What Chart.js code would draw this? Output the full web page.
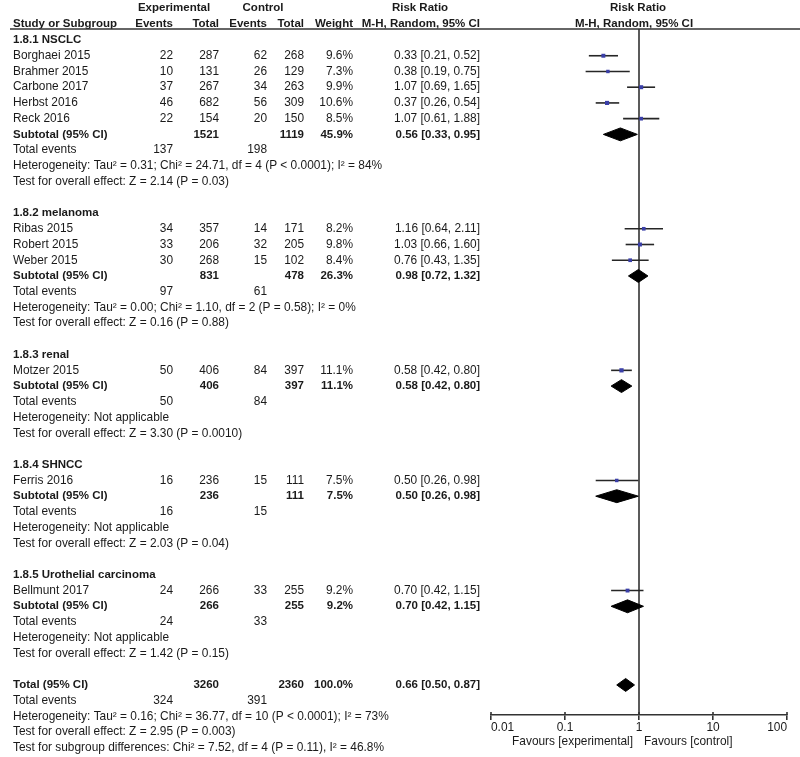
<!DOCTYPE html>
<html>
<head>
<meta charset="utf-8">
<script src="https://cdn.jsdelivr.net/npm/chart.js@4.4.0/dist/chart.umd.min.js"></script>
<style>
html, body { margin: 0; padding: 0; background: #fff; }
canvas { display: block; }
</style>
</head>
<body>
<canvas id="forest" width="800" height="757"></canvas>
<script>
////////////////////////////////////////////////////////////////////////////////
// data
////////////////////////////////////////////////////////////////////////////////
const GROUP_NAMES = ["1.8.1 NSCLC", "1.8.2 melanoma", "1.8.3 renal", "1.8.4 SHNCC", "1.8.5 Urothelial carcinoma"];

const STUDY_NAMES = ["Borghaei 2015", "Brahmer 2015", "Carbone 2017", "Herbst 2016", "Reck 2016",
                     "Ribas 2015", "Robert 2015", "Weber 2015", "Motzer 2015", "Ferris 2016", "Bellmunt 2017"];
const STUDY_GROUP = [0, 0, 0, 0, 0, 1, 1, 1, 2, 3, 4];
const EXP_EVENTS  = [22, 10, 37, 46, 22, 34, 33, 30, 50, 16, 24];
const EXP_TOTAL   = [287, 131, 267, 682, 154, 357, 206, 268, 406, 236, 266];
const CTL_EVENTS  = [62, 26, 34, 56, 20, 14, 32, 15, 84, 15, 33];
const CTL_TOTAL   = [268, 129, 263, 309, 150, 171, 205, 102, 397, 111, 255];
const WEIGHTS     = [9.6, 7.3, 9.9, 10.6, 8.5, 8.2, 9.8, 8.4, 11.1, 7.5, 9.2];
const RR          = [0.33, 0.38, 1.07, 0.37, 1.07, 1.16, 1.03, 0.76, 0.58, 0.50, 0.70];
const RR_LOW      = [0.21, 0.19, 0.69, 0.26, 0.61, 0.64, 0.66, 0.43, 0.42, 0.26, 0.42];
const RR_HIGH     = [0.52, 0.75, 1.65, 0.54, 1.88, 2.11, 1.60, 1.35, 0.80, 0.98, 1.15];

// subgroup summaries
const SUB_EXP_EVENTS = [137, 97, 50, 16, 24];
const SUB_CTL_EVENTS = [198, 61, 84, 15, 33];
const SUB_EXP_TOTAL  = [1521, 831, 406, 236, 266];
const SUB_CTL_TOTAL  = [1119, 478, 397, 111, 255];
const SUB_WEIGHT     = [45.9, 26.3, 11.1, 7.5, 9.2];
const SUB_RR         = [0.56, 0.98, 0.58, 0.50, 0.70];
const SUB_LOW        = [0.33, 0.72, 0.42, 0.26, 0.42];
const SUB_HIGH       = [0.95, 1.32, 0.80, 0.98, 1.15];
const SUB_HET = [
    "Heterogeneity: Tau\u00b2 = 0.31; Chi\u00b2 = 24.71, df = 4 (P < 0.0001); I\u00b2 = 84%",
    "Heterogeneity: Tau\u00b2 = 0.00; Chi\u00b2 = 1.10, df = 2 (P = 0.58); I\u00b2 = 0%",
    "Heterogeneity: Not applicable",
    "Heterogeneity: Not applicable",
    "Heterogeneity: Not applicable",
];
const SUB_TEST = [
    "Test for overall effect: Z = 2.14 (P = 0.03)",
    "Test for overall effect: Z = 0.16 (P = 0.88)",
    "Test for overall effect: Z = 3.30 (P = 0.0010)",
    "Test for overall effect: Z = 2.03 (P = 0.04)",
    "Test for overall effect: Z = 1.42 (P = 0.15)",
];

// overall
const TOTAL_EXP_EVENTS = 324;
const TOTAL_CTL_EVENTS = 391;
const TOTAL_EXP = 3260;
const TOTAL_CTL = 2360;
const TOTAL_WEIGHT = 100.0;
const TOTAL_RR = 0.66;
const TOTAL_LOW = 0.50;
const TOTAL_HIGH = 0.87;
const TOTAL_NOTES = [
    "Heterogeneity: Tau\u00b2 = 0.16; Chi\u00b2 = 36.77, df = 10 (P < 0.0001); I\u00b2 = 73%",
    "Test for overall effect: Z = 2.95 (P = 0.003)",
    "Test for subgroup differences: Chi\u00b2 = 7.52, df = 4 (P = 0.11), I\u00b2 = 46.8%",
];

const X_TICKS = [0.01, 0.1, 1, 10, 100];
const FAVOURS = ["Favours [experimental]", "Favours [control]"];


////////////////////////////////////////////////////////////////////////////////
// rows
////////////////////////////////////////////////////////////////////////////////
const rows = [];
const studyRow = [];
const subRow = [];
let r = 0;
GROUP_NAMES.forEach((g, gi)=>{
    rows.push({ row: r++, kind: "group", i: gi });
    STUDY_GROUP.forEach((sg, si)=>{
        if(sg === gi){
            studyRow[si] = r;
            rows.push({ row: r++, kind: "study", i: si });
        }
    });
    subRow[gi] = r;
    rows.push({ row: r++, kind: "subtotal", i: gi });
    rows.push({ row: r++, kind: "events", i: gi });
    rows.push({ row: r++, kind: "het", i: gi });
    rows.push({ row: r++, kind: "test", i: gi });
    r++; // blank line
});
const totalRow = r;
rows.push({ row: r++, kind: "total" });
rows.push({ row: r++, kind: "totalEvents" });
TOTAL_NOTES.forEach((t, ti)=>{ rows.push({ row: r++, kind: "note", i: ti }); });

const Y_MIN = -0.7;
const Y_MAX = 42.91;
const DIAMOND_H = 0.41;


////////////////////////////////////////////////////////////////////////////////
// datasets
////////////////////////////////////////////////////////////////////////////////
const FONT = "'Liberation Sans', Arial, sans-serif";
const FONT_SIZE = 11.9;
const BOLD_SIZE = 11.5;
const TEXT_COLOR = "#1a1a1a";

const diamond = (est, lo, hi, row)=>[
    { x: lo, y: row }, { x: est, y: row - DIAMOND_H }, { x: hi, y: row },
    { x: est, y: row + DIAMOND_H }, { x: lo, y: row },
];

const datasets = [];

datasets.push({
    label: "studies",
    data: RR.map((v, i)=>({ x: v, y: studyRow[i] })),
    pointStyle: "rect",
    pointRadius: WEIGHTS.map(w => 0.9 * Math.sqrt(w)),
    backgroundColor: "#3a3fa8",
    borderWidth: 0,
    order: 0,
});

RR.forEach((v, i)=>{
    datasets.push({
        label: "ci " + STUDY_NAMES[i],
        data: [{ x: RR_LOW[i], y: studyRow[i] }, { x: RR_HIGH[i], y: studyRow[i] }],
        showLine: true,
        borderColor: "#262626",
        borderWidth: 1.6,
        pointRadius: 0,
        order: 1,
    });
});

SUB_RR.forEach((v, gi)=>{
    datasets.push({
        label: "sub " + GROUP_NAMES[gi],
        data: diamond(v, SUB_LOW[gi], SUB_HIGH[gi], subRow[gi]),
        showLine: true,
        fill: "shape",
        backgroundColor: "#000",
        borderColor: "#000",
        borderWidth: 1,
        pointRadius: 0,
        tension: 0,
        order: 1,
    });
});

datasets.push({
    label: "total",
    data: diamond(TOTAL_RR, TOTAL_LOW, TOTAL_HIGH, totalRow),
    showLine: true,
    fill: "shape",
    backgroundColor: "#000",
    borderColor: "#000",
    borderWidth: 1,
    pointRadius: 0,
    order: 1,
});

datasets.push({
    label: "no effect",
    data: [{ x: 1, y: Y_MIN }, { x: 1, y: Y_MAX }],
    showLine: true,
    borderColor: "#333",
    borderWidth: 1.6,
    pointRadius: 0,
    order: 2,
});


////////////////////////////////////////////////////////////////////////////////
// table text
////////////////////////////////////////////////////////////////////////////////
const COL = { name: 13, ee: 173, et: 219, ce: 267, ct: 304, w: 353, ci: 480 };
const fmtCI = (e, l, h)=> e.toFixed(2) + " [" + l.toFixed(2) + ", " + h.toFixed(2) + "]";

const tablePlugin = {
    id: "table",
    afterDraw(chart){
        const ctx = chart.ctx;
        const ys = chart.scales.y;
        const xs = chart.scales.x;
        const area = chart.chartArea;

        const put = (txt, x, y, align, bold)=>{
            ctx.font = bold ? ("bold " + BOLD_SIZE + "px " + FONT) : (FONT_SIZE + "px " + FONT);
            ctx.textAlign = align;
            ctx.fillText(String(txt), x, y);
        };

        ctx.save();
        ctx.fillStyle = TEXT_COLOR;
        ctx.textBaseline = "middle";

        // header
        const h1 = ys.getPixelForValue(-2.07);
        const h2 = ys.getPixelForValue(-1.0);
        put("Experimental", 174, h1, "center", true);
        put("Control", 263, h1, "center", true);
        put("Risk Ratio", 420, h1, "center", true);
        put("Risk Ratio", 638, h1, "center", true);
        put("Study or Subgroup", COL.name, h2, "left", true);
        put("Events", COL.ee, h2, "right", true);
        put("Total", COL.et, h2, "right", true);
        put("Events", COL.ce, h2, "right", true);
        put("Total", COL.ct, h2, "right", true);
        put("Weight", COL.w, h2, "right", true);
        put("M-H, Random, 95% CI", COL.ci, h2, "right", true);
        put("M-H, Random, 95% CI", 634, h2, "center", true);

        ctx.strokeStyle = "#333";
        ctx.lineWidth = 1.6;
        ctx.beginPath();
        ctx.moveTo(10, area.top);
        ctx.lineTo(800, area.top);
        ctx.stroke();

        rows.forEach(rw=>{
            const y = ys.getPixelForValue(rw.row);
            const i = rw.i;
            if(rw.kind === "group"){
                put(GROUP_NAMES[i], COL.name, y, "left", true);
            } else if(rw.kind === "study"){
                put(STUDY_NAMES[i], COL.name, y, "left");
                put(EXP_EVENTS[i], COL.ee, y, "right");
                put(EXP_TOTAL[i], COL.et, y, "right");
                put(CTL_EVENTS[i], COL.ce, y, "right");
                put(CTL_TOTAL[i], COL.ct, y, "right");
                put(WEIGHTS[i].toFixed(1) + "%", COL.w, y, "right");
                put(fmtCI(RR[i], RR_LOW[i], RR_HIGH[i]), COL.ci, y, "right");
            } else if(rw.kind === "subtotal"){
                put("Subtotal (95% CI)", COL.name, y, "left", true);
                put(SUB_EXP_TOTAL[i], COL.et, y, "right", true);
                put(SUB_CTL_TOTAL[i], COL.ct, y, "right", true);
                put(SUB_WEIGHT[i].toFixed(1) + "%", COL.w, y, "right", true);
                put(fmtCI(SUB_RR[i], SUB_LOW[i], SUB_HIGH[i]), COL.ci, y, "right", true);
            } else if(rw.kind === "events"){
                put("Total events", COL.name, y, "left");
                put(SUB_EXP_EVENTS[i], COL.ee, y, "right");
                put(SUB_CTL_EVENTS[i], COL.ce, y, "right");
            } else if(rw.kind === "het"){
                put(SUB_HET[i], COL.name, y, "left");
            } else if(rw.kind === "test"){
                put(SUB_TEST[i], COL.name, y, "left");
            } else if(rw.kind === "total"){
                put("Total (95% CI)", COL.name, y, "left", true);
                put(TOTAL_EXP, COL.et, y, "right", true);
                put(TOTAL_CTL, COL.ct, y, "right", true);
                put(TOTAL_WEIGHT.toFixed(1) + "%", COL.w, y, "right", true);
                put(fmtCI(TOTAL_RR, TOTAL_LOW, TOTAL_HIGH), COL.ci, y, "right", true);
            } else if(rw.kind === "totalEvents"){
                put("Total events", COL.name, y, "left");
                put(TOTAL_EXP_EVENTS, COL.ee, y, "right");
                put(TOTAL_CTL_EVENTS, COL.ce, y, "right");
            } else if(rw.kind === "note"){
                put(TOTAL_NOTES[i], COL.name, y, "left");
            }
        });

        // small upward tick marks on the axis
        ctx.beginPath();
        X_TICKS.forEach(v=>{
            const px = xs.getPixelForValue(v);
            ctx.moveTo(px, area.bottom - 3);
            ctx.lineTo(px, area.bottom);
        });
        ctx.stroke();

        // favours labels
        const one = xs.getPixelForValue(1);
        put(FAVOURS[0], one - 6, 742, "right");
        put(FAVOURS[1], one + 5, 742, "left");

        ctx.restore();
    }
};


////////////////////////////////////////////////////////////////////////////////
// chart
////////////////////////////////////////////////////////////////////////////////
Chart.defaults.font.family = FONT;
Chart.defaults.font.size = FONT_SIZE;
Chart.defaults.color = TEXT_COLOR;

const createChart = ()=>{
    const canvas = document.querySelector("#forest");
    return new Chart(canvas, {
        type: "scatter",
        data: { datasets: datasets },
        options: {
            responsive: false,
            devicePixelRatio: 1,
            animation: false,
            layout: { padding: { left: 491, right: 13, top: 29, bottom: 0 } },
            plugins: { legend: { display: false }, tooltip: { enabled: false } },
            scales: {
                x: {
                    type: "logarithmic",
                    min: 0.01,
                    max: 100,
                    afterBuildTicks: (s)=>{ s.ticks = X_TICKS.map(v => ({ value: v })); },
                    afterFit: (s)=>{ s.height = 42; },
                    ticks: {
                        autoSkip: false,
                        maxRotation: 0,
                        align: "inner",
                        padding: 1,
                        color: TEXT_COLOR,
                        callback: (v)=> String(v),
                    },
                    grid: {
                        drawOnChartArea: false,
                        tickLength: 5,
                        color: "#333",
                        lineWidth: 1.6,
                    },
                    border: { display: true, color: "#333", width: 1.6 },
                },
                y: {
                    type: "linear",
                    display: false,
                    reverse: true,
                    min: Y_MIN,
                    max: Y_MAX,
                },
            },
        },
        plugins: [tablePlugin],
    });
};

createChart();
</script>
</body>
</html>
